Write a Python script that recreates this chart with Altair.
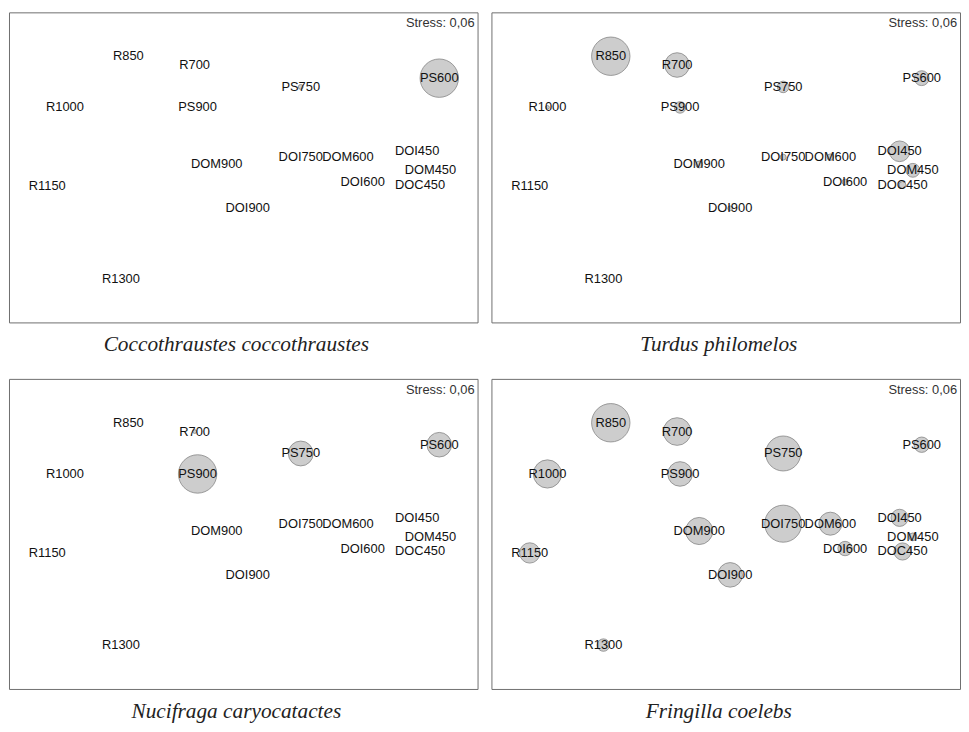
import altair as alt
import pandas as pd

# NMDS site scores (arbitrary units)
sites = ["R850", "R700", "R1000", "R1150", "R1300",
         "PS600", "PS750", "PS900",
         "DOI450", "DOI600", "DOI750", "DOI900",
         "DOM450", "DOM600", "DOM900", "DOC450"]
mds1 = [-0.78, -0.33, -1.21, -1.33, -0.83,
        1.33, 0.39, -0.31,
        1.18, 0.81, 0.39, 0.03,
        1.27, 0.71, -0.18, 1.20]
mds2 = [0.76, 0.70, 0.41, -0.13, -0.76,
        0.61, 0.55, 0.41,
        0.11, -0.10, 0.07, -0.28,
        -0.02, 0.07, 0.02, -0.12]

species = ["Coccothraustes coccothraustes", "Turdus philomelos",
           "Nucifraga caryocatactes", "Fringilla coelebs"]

# relative abundance per site (bubble area), same order as `sites`
abund_coccothraustes = [0, 0, 0, 0, 0, 100, 1.6, 0, 0, 0, 0, 0, 0, 0, 0, 0]
abund_turdus = [100, 41, 1, 0, 0, 15, 9, 9, 29, 2.4, 2.4, 1.6, 13, 2.9, 3.2, 3.2]
abund_nucifraga = [0, 1, 0, 0, 0, 41, 42, 100, 0, 0, 0, 0, 0, 0, 0, 0]
abund_fringilla = [100, 52, 54, 28, 10.5, 16, 83, 41, 20, 14, 93, 41, 4.2, 36, 50, 20]

stress = ["0,06", "0,06", "0,06", "0,06"]

abund = [abund_coccothraustes, abund_turdus, abund_nucifraga, abund_fringilla]

W, H = 473, 313

xscale = alt.Scale(domain=[-1.59, 1.59], nice=False, zero=False)
yscale = alt.Scale(domain=[-1.06, 1.06], nice=False, zero=False)
sscale = alt.Scale(domain=[0, 100], range=[0, 1500], zero=True)


def panel(i):
    df = pd.DataFrame({"site": sites, "mds1": mds1, "mds2": mds2,
                       "abundance": abund[i]})
    base = alt.Chart(df).encode(
        x=alt.X("mds1:Q", scale=xscale, axis=None),
        y=alt.Y("mds2:Q", scale=yscale, axis=None),
    )
    bubbles = base.mark_circle(color="#cdcdcd", stroke="#858585",
                               strokeWidth=0.8, opacity=1).encode(
        size=alt.Size("abundance:Q", scale=sscale, legend=None)
    )
    labels = base.mark_text(font="Liberation Sans", fontSize=13,
                            color="#111111", baseline="middle",
                            align="center").encode(text="site:N")
    st = alt.Chart(pd.DataFrame({"t": ["Stress: " + stress[i]]})).mark_text(
        font="Liberation Sans", fontSize=13, color="#333333",
        align="right", baseline="middle"
    ).encode(x=alt.value(W - 3), y=alt.value(11), text="t:N")
    return alt.layer(bubbles, labels, st).properties(
        width=W, height=H,
        title=alt.TitleParams(
            text=species[i], orient="bottom", anchor="middle",
            font="Liberation Serif", fontSize=21.5, fontStyle="italic",
            fontWeight="normal", color="#222222", offset=12, dx=-7),
    )


chart = alt.vconcat(
    alt.hconcat(panel(0), panel(1), spacing=12),
    alt.hconcat(panel(2), panel(3), spacing=12),
    spacing=22,
).properties(padding=0).configure_view(stroke="#6e6e6e", strokeWidth=1)

chart.save("out.html", embed_options={"renderer": "svg", "actions": False})
